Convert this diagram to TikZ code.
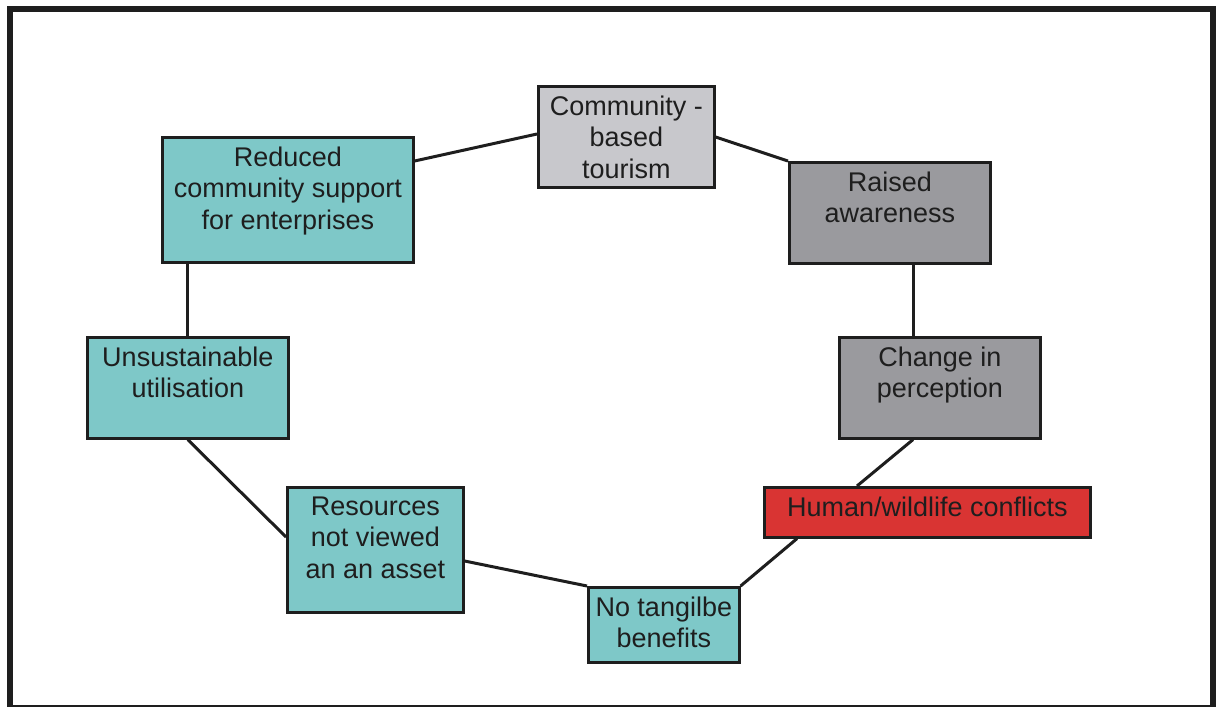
\documentclass[tikz,border=0pt]{standalone}
\usepackage{fontspec}
\setmainfont{Liberation Sans}
\usetikzlibrary{calc}
\definecolor{teal1}{RGB}{126,200,200}
\definecolor{gray1}{RGB}{200,200,204}
\definecolor{gray2}{RGB}{154,154,158}
\definecolor{red1}{RGB}{217,52,51}
\definecolor{ink}{RGB}{30,30,30}
\begin{document}
\begin{tikzpicture}[x=1pt,y=-1pt,
  box/.style={draw=ink, line width=2.6pt, rectangle, anchor=north west, inner sep=0pt},
  txt/.style={anchor=north, inner xsep=0pt, inner ysep=10.5pt, align=center, text=ink,
    font=\fontsize{27}{31.5}\selectfont, label distance=0pt},
  link/.style={draw=ink, line width=3pt}]
\useasboundingbox (0,0) rectangle (1216,707);
\fill[white] (0,0) rectangle (1216,707);
\draw[line width=6pt, draw=ink] (10,9) rectangle (1212.5,708);

\node[box, fill=gray1, minimum width=176pt, minimum height=101pt,
  label={[txt]north:Community -\\based\\tourism}] (cbt) at (537,85) {};
\node[box, fill=gray2, minimum width=201pt, minimum height=101pt,
  label={[txt]north:Raised\\awareness}] (ra) at (788,161) {};
\node[box, fill=gray2, minimum width=201pt, minimum height=101pt,
  label={[txt]north:Change in\\perception}] (cp) at (838,336) {};
\node[box, fill=red1, minimum width=326pt, minimum height=50pt,
  label={[txt]north:Human/wildlife conflicts}] (hw) at (763,486) {};
\node[box, fill=teal1, minimum width=151pt, minimum height=75pt,
  label={[txt]north:No tangilbe\\benefits}] (nt) at (587,586) {};
\node[box, fill=teal1, minimum width=176pt, minimum height=125pt,
  label={[txt]north:Resources\\not viewed\\an an asset}] (rv) at (286,486) {};
\node[box, fill=teal1, minimum width=201pt, minimum height=101pt,
  label={[txt]north:Unsustainable\\utilisation}] (uu) at (86,336) {};
\node[box, fill=teal1, minimum width=251pt, minimum height=125pt,
  label={[txt]north:Reduced\\community support\\for enterprises}] (rc) at (161,136) {};

\draw[link] ($(rc.north east)+(0,25)$) -- ($(cbt.north west)+(0,49)$);
\draw[link] ($(cbt.north east)+(0,52)$) -- (ra.north west);
\draw[link] ($(ra.south west)+(125,0)$) -- ($(cp.north west)+(75,0)$);
\draw[link] ($(cp.south west)+(75,0)$) -- ($(hw.north west)+(94,0)$);
\draw[link] ($(hw.south west)+(34,0)$) -- (nt.north east);
\draw[link] ($(rv.north east)+(0,75)$) -- (nt.north west);
\draw[link] (uu.south) -- ($(rv.north west)+(0,51)$);
\draw[link] (uu.north) -- (uu.north |- rc.south);
\end{tikzpicture}
\end{document}
